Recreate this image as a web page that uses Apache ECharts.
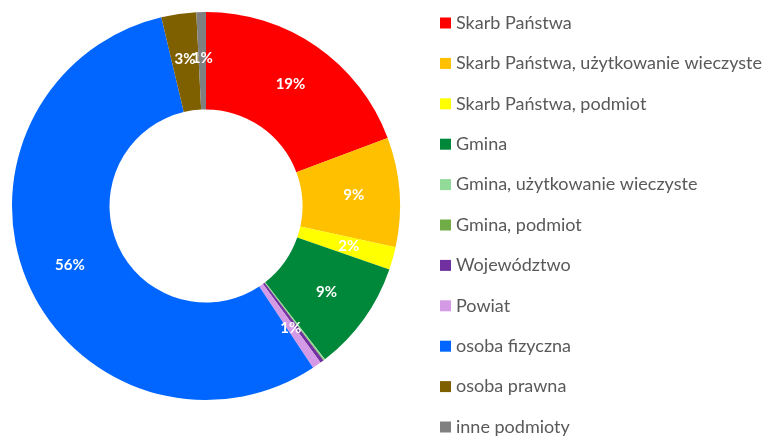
<!DOCTYPE html>
<html>
<head>
<meta charset="utf-8">
<script src="https://cdn.jsdelivr.net/npm/echarts@6/dist/echarts.min.js"></script>
<style>
  html, body { margin: 0; padding: 0; background: #ffffff; }
  #chart { width: 774px; height: 437px; }
</style>
</head>
<body>
<div id="chart"></div>
<script>
// Ownership structure – share of area by owner type (%)
const categories = [
  'Skarb Państwa',
  'Skarb Państwa, użytkowanie wieczyste',
  'Skarb Państwa, podmiot',
  'Gmina',
  'Gmina, użytkowanie wieczyste',
  'Gmina, podmiot',
  'Województwo',
  'Powiat',
  'osoba fizyczna',
  'osoba prawna',
  'inne podmioty'
];
const shares = [19.3, 9.1, 1.9, 9.2, 0.1, 0.05, 0.3, 0.75, 55.6, 2.9, 0.8];
const colors = [
  '#FF0000', '#FFC000', '#FFFF00', '#00883A', '#92DA98', '#70AD47',
  '#7030A0', '#D49AE6', '#0066FF', '#7F6000', '#808080'
];

const chart = echarts.init(document.getElementById('chart'), null, { renderer: 'canvas' });

const seriesData = categories.map((name, i) => ({
  name: name,
  value: shares[i],
  itemStyle: { color: colors[i] }
}));

chart.setOption({
  animation: false,
  backgroundColor: '#ffffff',
  legend: {
    orient: 'vertical',
    left: 440,
    top: 13,
    padding: 0,
    itemWidth: 11,
    itemHeight: 11,
    itemGap: 20.4,
    icon: 'rect',
    data: categories,
    textStyle: {
      fontFamily: 'Lato',
      fontSize: 18,
      lineHeight: 20,
      color: '#595959'
    }
  },
  series: [{
    type: 'pie',
    center: [206, 206],
    radius: [96.5, 194],
    startAngle: 90,
    clockwise: true,
    avoidLabelOverlap: false,
    data: seriesData,
    label: {
      show: true,
      position: 'inside',
      color: '#ffffff',
      fontFamily: 'Lato',
      fontWeight: 'bold',
      fontSize: 15,
      formatter: function (p) {
        const pct = Math.round(p.percent);
        return pct >= 1 ? pct + '%' : '';
      }
    },
    labelLayout: { hideOverlap: false },
    labelLine: { show: false },
    emphasis: { disabled: true }
  }]
});
</script>
</body>
</html>
